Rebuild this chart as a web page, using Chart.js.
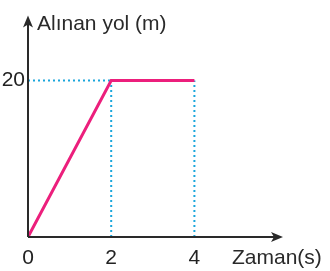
<!DOCTYPE html>
<html>
<head>
<meta charset="utf-8">
<script src="https://cdn.jsdelivr.net/npm/chart.js@4/dist/chart.umd.min.js"></script>
<style>
  html, body { margin: 0; padding: 0; background: #fff; }
  #wrap { width: 330px; height: 271px; }
</style>
</head>
<body>
<div id="wrap"><canvas id="chart"></canvas></div>
<script>
// data
const timeValues = [0, 2, 4];        // s
const distanceValues = [0, 20, 20];  // m
const xTicks = [0, 2, 4];
const yTicks = [20];
const xTitle = 'Zaman(s)';
const yTitle = 'Alınan yol (m)';

const pathPoints = timeValues.map((t, i) => ({ x: t, y: distanceValues[i] }));
// dotted helper lines: from each corner point to both axes
const guideH = [{ x: 0, y: distanceValues[1] }, { x: timeValues[1], y: distanceValues[1] }];
const guideV1 = [{ x: timeValues[1], y: 0 }, { x: timeValues[1], y: distanceValues[1] }];
const guideV2 = [{ x: timeValues[2], y: 0 }, { x: timeValues[2], y: distanceValues[2] }];

const FONT = 'Liberation Sans, Arial, sans-serif';

function guide(data) {
    return {
        data: data,
        showLine: true,
        borderColor: '#1aa6dc',
        borderWidth: 2,
        borderDash: [2, 3],
        pointRadius: 0,
        order: 2
    };
}

// axes with arrow heads plus the two axis titles
const axesPlugin = {
    id: 'arrowAxes',
    afterDatasetsDraw(chart) {
        const ctx = chart.ctx;
        const x = chart.scales.x, y = chart.scales.y;
        const x0 = x.getPixelForValue(0), y0 = y.getPixelForValue(0);
        const xEnd = x.getPixelForValue(x.max), yEnd = y.getPixelForValue(y.max);
        ctx.save();
        ctx.strokeStyle = '#2a2a2a';
        ctx.fillStyle = '#2a2a2a';
        ctx.lineWidth = 2;
        ctx.beginPath();
        ctx.moveTo(x0, y0); ctx.lineTo(xEnd - 6, y0);
        ctx.moveTo(x0, y0); ctx.lineTo(x0, yEnd + 6);
        ctx.stroke();
        ctx.beginPath();
        ctx.moveTo(xEnd, y0); ctx.lineTo(xEnd - 12, y0 - 5); ctx.lineTo(xEnd - 9, y0); ctx.lineTo(xEnd - 12, y0 + 5);
        ctx.closePath(); ctx.fill();
        ctx.beginPath();
        ctx.moveTo(x0, yEnd); ctx.lineTo(x0 - 5, yEnd + 12); ctx.lineTo(x0, yEnd + 9); ctx.lineTo(x0 + 5, yEnd + 12);
        ctx.closePath(); ctx.fill();
        ctx.font = '21px ' + FONT;
        ctx.textBaseline = 'middle';
        ctx.textAlign = 'left';
        ctx.fillText(yTitle, x0 + 9, yEnd + 9);
        ctx.fillText(xTitle, 232, 258);
        ctx.restore();
    }
};

new Chart(document.getElementById('chart'), {
    type: 'scatter',
    data: {
        datasets: [
            {
                data: pathPoints,
                showLine: true,
                borderColor: '#ec1f7c',
                borderWidth: 3,
                pointRadius: 0,
                order: 1
            },
            guide(guideH),
            guide(guideV1),
            guide(guideV2)
        ]
    },
    options: {
        responsive: true,
        maintainAspectRatio: false,
        animation: false,
        layout: { padding: { top: 12, right: 47, left: 0, bottom: 0 } },
        plugins: { legend: { display: false }, tooltip: { enabled: false } },
        scales: {
            x: {
                type: 'linear',
                min: 0,
                max: 6.13,
                afterBuildTicks(s) { s.ticks = xTicks.map(v => ({ value: v })); },
                afterFit(s) { s.height = 34; },
                grid: { display: false, drawTicks: false },
                border: { display: false },
                ticks: { color: '#222', font: { size: 21, family: FONT }, padding: 9, maxRotation: 0 }
            },
            y: {
                type: 'linear',
                min: 0,
                max: 28.3,
                afterBuildTicks(s) { s.ticks = yTicks.map(v => ({ value: v })); },
                afterFit(s) { s.width = 28; },
                grid: { display: false, drawTicks: false },
                border: { display: false },
                ticks: { color: '#222', font: { size: 21, family: FONT }, padding: 3 }
            }
        }
    },
    plugins: [axesPlugin]
});
</script>
</body>
</html>
